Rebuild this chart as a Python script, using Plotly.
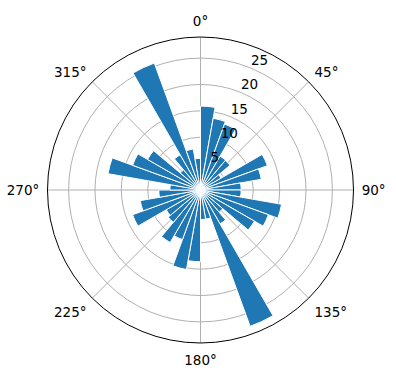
import plotly.graph_objects as go

# Direction bins (degrees, bin centres) and bar lengths
directions = [5, 15, 25, 35, 45, 55, 65, 75, 85, 95, 105, 115, 125, 135, 145, 155, 165, 175,
              185, 195, 205, 215, 225, 235, 245, 255, 265, 275, 285, 295, 305, 315, 325, 335, 345, 355]
values = [15.9, 13.8, 13.3, 7.4, 7.3, 4.5, 13.5, 11.7, 7.7, 7.7, 15.6, 13.7, 11.8, 5.5, 7.4, 27.5, 5.6, 5.6,
          13.6, 15.3, 10.0, 11.5, 8.0, 7.5, 13.7, 11.6, 7.9, 5.8, 17.8, 13.7, 11.6, 5.0, 7.7, 25.6, 7.9, 6.0]
bin_width = 10

angle_ticks = [0, 45, 90, 135, 180, 225, 270, 315]
angle_labels = [f"{a}°" for a in angle_ticks]
radial_ticks = [5, 10, 15, 20, 25]
radial_labels = [str(v) for v in radial_ticks]
radial_label_angle = 22.5
r_max = 29.0

W, H = 396, 380
cx, cy, R = 200.5, 190.0, 153.0

font = dict(family="DejaVu Sans", size=13.5, color="black")

fig = go.Figure()
fig.add_trace(go.Barpolar(
    r=values,
    theta=directions,
    width=[bin_width] * len(values),
    marker=dict(color="#1f77b4", line=dict(color="white", width=1)),
    opacity=1,
    showlegend=False,
    hoverinfo="skip",
))
# radial tick labels (matplotlib style: left/bottom aligned at the tick position)
fig.add_trace(go.Scatterpolar(
    r=radial_ticks,
    theta=[radial_label_angle] * len(radial_ticks),
    mode="text",
    text=radial_labels,
    textposition="top right",
    textfont=font,
    showlegend=False,
    hoverinfo="skip",
))

fig.update_layout(
    width=W, height=H,
    margin=dict(l=0, r=0, t=0, b=0),
    paper_bgcolor="white",
    font=font,
    polar=dict(
        domain=dict(x=[(cx - R) / W, (cx + R) / W], y=[(H - cy - R) / H, (H - cy + R) / H]),
        bgcolor="white",
        angularaxis=dict(
            rotation=90, direction="clockwise",
            tickmode="array", tickvals=angle_ticks, ticktext=angle_labels,
            showline=True, linecolor="black", linewidth=1,
            showgrid=True, gridcolor="#b0b0b0", gridwidth=1.1,
            ticks="outside", ticklen=5, tickcolor="rgba(0,0,0,0)",
            tickfont=font,
        ),
        radialaxis=dict(
            range=[0, r_max],
            tickmode="array", tickvals=radial_ticks,
            showticklabels=False,
            showline=False, ticks="",
            showgrid=True, gridcolor="#b0b0b0", gridwidth=1.1,
        ),
    ),
)

fig.write_html("out.html")
